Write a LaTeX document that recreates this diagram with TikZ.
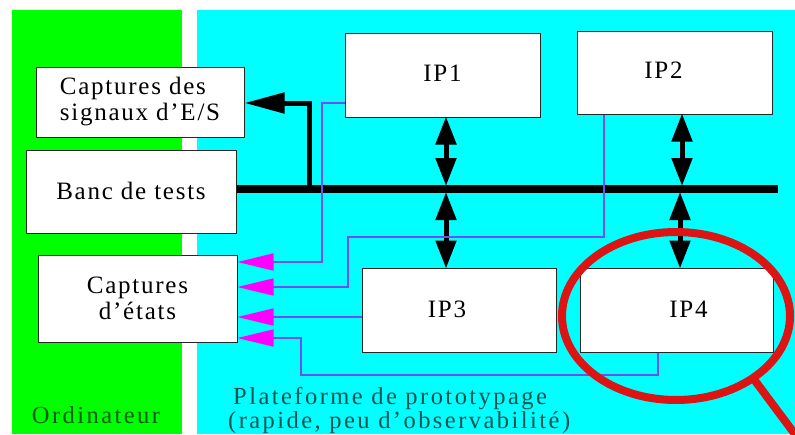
\documentclass[tikz,border=0pt]{standalone}
\usepackage{fontspec}
\setmainfont{Liberation Serif}[LetterSpace=7]
\newfontfamily\zonefont{Liberation Serif}[LetterSpace=10]
\usetikzlibrary{arrows.meta}
\definecolor{grn}{RGB}{0,255,0}
\definecolor{cyn}{RGB}{0,255,255}
\definecolor{purp}{RGB}{110,80,240}
\definecolor{mag}{RGB}{255,0,255}
\definecolor{redc}{RGB}{220,20,20}
\definecolor{tealtxt}{RGB}{15,80,80}
\definecolor{grntxt}{RGB}{15,90,15}
\tikzset{
  box/.style={draw=black!85, line width=1pt, fill=white, inner sep=0pt,
    font=\fontsize{25}{26}\selectfont},
  busline/.style={line width=8pt, black},
  dblarrow/.style={line width=5pt, black, {Triangle[length=28pt,width=20pt]}-{Triangle[length=28pt,width=20pt]}, shorten <=-1pt, shorten >=-1pt},
  sigarrow/.style={line width=5pt, black, -{Triangle[length=40pt,width=20pt]}},
  probe/.style={line width=1.5pt, purp, -{Triangle[length=36pt,width=17pt,color=mag]}},
  zonetxt/.style={font=\zonefont\fontsize{24.5}{24}\selectfont, inner sep=0pt, align=left}
}
\begin{document}
\begin{tikzpicture}[x=1pt,y=-1pt]
\clip (0,0) rectangle (795,434);
\fill[white] (0,0) rectangle (795,434);
% zones
\fill[grn] (12,10) rectangle (182,434);
\fill[cyn] (197,10) rectangle (795,434);
% boxes
\node[box, minimum width=208pt, minimum height=70pt, align=left] (cs) at (140,102) {Captures des\\signaux d’E/S};
\node[box, minimum width=210pt, minimum height=83pt] (banc) at (131,191.5) {\raisebox{2pt}{Banc de tests}};
\node[box, minimum width=199pt, minimum height=87pt, align=center] (ce) at (137.5,298.5) {Captures\\d’états};
\node[box, minimum width=195pt, minimum height=84pt] (ip1) at (442.5,75) {\raisebox{4pt}{IP1}};
\node[box, minimum width=195pt, minimum height=83pt] (ip2) at (674.5,72.5) {\raisebox{5pt}{IP2}\kern22pt};
\node[box, minimum width=194pt, minimum height=84pt] (ip3) at (459,310) {\raisebox{2pt}{IP3}\kern24pt};
\node[box, minimum width=193pt, minimum height=84pt] (ip4) at (676.5,310) {\kern24pt\raisebox{2pt}{IP4}};
% bus
\coordinate (busend) at (778,189);
\draw[busline] (banc.east |- busend) -- (busend);
\coordinate (tap) at (309,189);
\draw[sigarrow] (tap) -- (309,103) -- (cs.east |- 0,103);
% double arrows
\draw[dblarrow] (ip1.south -| 446,0) -- (446,185);
\draw[dblarrow] (446,193) -- (ip3.north -| 446,0);
\draw[dblarrow] (ip2.south -| 682,0) -- (682,185);
\draw[dblarrow] (680,193) -- (ip4.north -| 680,0);
% probes
\draw[probe] (ip1.west |- 0,103) -- (322,103) -- (322,262) -- (ce.east |- 0,262);
\draw[probe] (ip2.south -| 604,0) -- (604,237) -- (348,237) -- (348,287) -- (ce.east |- 0,287);
\draw[probe] (ip3.west |- 0,317) -- (ce.east |- 0,317);
\draw[probe] (ip4.south -| 658,0) -- (658,375) -- (301,375) -- (301,338) -- (ce.east |- 0,338);
% zone labels
\node[zonetxt, text=grntxt] (ord) at (96,415) {Ordinateur};
\node[zonetxt, text=tealtxt, anchor=west] (plat) at (228,410) {\hspace*{5pt}Plateforme de prototypage\\(rapide, peu d’observabilité)};
% magnifier
\draw[redc, line width=8pt] (676,316) ellipse [x radius=114, y radius=84];
\draw[redc, line width=8pt] (753,378) -- (800,441);
\end{tikzpicture}
\end{document}
